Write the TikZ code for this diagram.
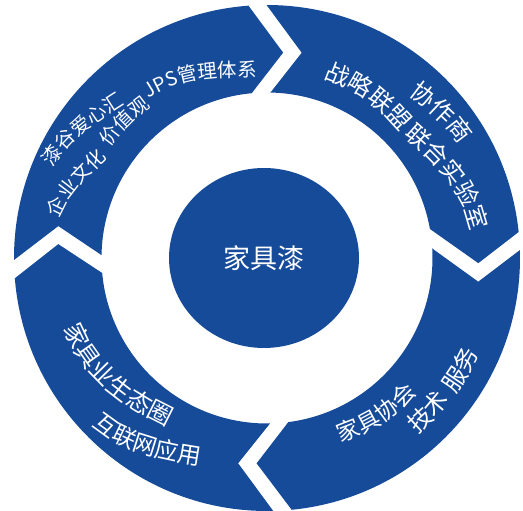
\documentclass[tikz,border=0pt]{standalone}
\usepackage{fontspec}
\setmainfont{Noto Sans CJK SC}
\usetikzlibrary{shapes.geometric,decorations.text}
\definecolor{ringblue}{RGB}{22,75,154}
\newcommand{\Rout}{253pt}
\newcommand{\Rin}{165.5pt}
% #1 size, #2/#3 start angle/radius, #4/#5 end angle/radius, #6 text
\newcommand{\ringtext}[6]{%
  \pgfmathsetmacro{\dirsign}{sign(#4-#2)}%
  \pgfmathsetmacro{\outang}{#2+90*\dirsign}%
  \pgfmathsetmacro{\inang}{#4-90*\dirsign}%
  \path[decorate,decoration={text along path,text align=center,
        text={|\fontsize{#1}{#1}\selectfont\color{white}|#6}}]
    (#2:#3pt) to[out=\outang,in=\inang] (#4:#5pt);}

\begin{document}
\begin{tikzpicture}[
  seg/.style={fill=ringblue},
  hub/.style={ellipse,fill=ringblue,text=white,inner sep=0pt,
              minimum width=190pt,minimum height=180pt,
              font=\fontsize{27}{27}\selectfont}]
\useasboundingbox (-267pt,-253pt) rectangle (256pt,258pt);
%% ── Ring segments — each runs clockwise, notch tail to arrow tip ────────
% top left
\fill[seg] (180.45:\Rout) arc[start angle=180.45,end angle=94.2,radius=\Rout]
  -- (85.5:206pt) -- (95.3:\Rin) arc[start angle=95.3,end angle=179,radius=\Rin]
  -- (171.3:211.1pt) -- cycle;
% top right
\fill[seg] (90.1:\Rout) arc[start angle=90.1,end angle=5.9,radius=\Rout]
  -- (-1.4:211.4pt) -- (10.1:\Rin) arc[start angle=10.1,end angle=88.8,radius=\Rin]
  -- (80.4:208.2pt) -- cycle;
% bottom right
\fill[seg] (1.8:\Rout) arc[start angle=1.8,end angle=-84.4,radius=\Rout]
  -- (-92.9:205.6pt) -- (-82.6:\Rin) arc[start angle=-82.6,end angle=3.3,radius=\Rin]
  -- (-6.4:212.6pt) -- cycle;
% bottom left
\fill[seg] (271.4:\Rout) arc[start angle=271.4,end angle=184.6,radius=\Rout]
  -- (176.2:209.2pt) -- (185.2:\Rin) arc[start angle=185.2,end angle=271.05,radius=\Rin]
  -- (262:207.3pt) -- cycle;
%% ── Hub ─────────────────────────────────────────────────────────────────
\node[hub] (hub) at (-3pt,0pt) {家具漆};
%% ── Ring texts — top half read clockwise, bottom half anticlockwise ────
\ringtext{19.5}{164.7}{233.8}{124.3}{206.4}{漆谷爱心汇}
\ringtext{19.5}{176.2}{213.2}{140}{185.7}{企业文化}
\ringtext{19.5}{152.4}{191.2}{120}{189.3}{价值观}
\ringtext{19.5}{132.7}{198.8}{86.6}{179.4}{JPS管理体系}
\ringtext{24}{79.2}{187.9}{36.4}{182.7}{战略联盟}
\ringtext{24}{56.8}{214.2}{22.9}{223.4}{协作商}
\ringtext{24}{48.8}{182.1}{1.3}{206.4}{联合实验室}
\ringtext{23}{-74.7}{197.7}{-35.5}{201.7}{家具协会}
\ringtext{24}{-56.7}{230.8}{-30.7}{230.8}{技术}
\ringtext{24}{-43.4}{231.6}{-16.4}{231.6}{服务}
\ringtext{24.5}{191.3}{215.6}{248}{194.6}{家具业生态圈}
\ringtext{23.5}{215.9}{243.6}{260.7}{214.7}{互联网应用}
\end{tikzpicture}
\end{document}
